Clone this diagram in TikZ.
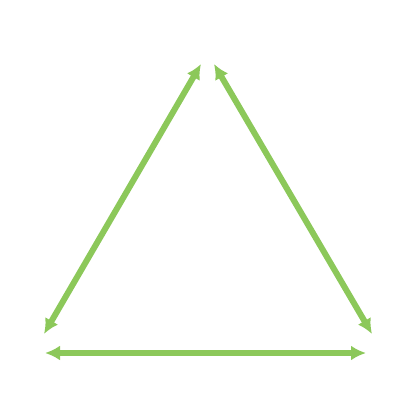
\documentclass[tikz,border=0pt]{standalone}
\usetikzlibrary{arrows.meta}
\definecolor{leafgreen}{HTML}{8CC85A}
\begin{document}
\begin{tikzpicture}[x=0.01cm,y=-0.01cm,
  side/.style={{Latex[length=0.15cm,width=0.15cm]}-{Latex[length=0.15cm,width=0.15cm]},leafgreen,line width=0.06cm}]

\useasboundingbox (0,0) rectangle (416,416);

% Sommets
\coordinate (topL) at (201,64);
\coordinate (topR) at (214,64);
\coordinate (leftU) at (44,334);
\coordinate (rightU) at (372,334);
\coordinate (leftD) at (45,353);
\coordinate (rightD) at (366,353);

% Cotes
\draw[side]
(leftU)
--
(topL);

\draw[side]
(topR)
--
(rightU);

\draw[side]
(leftD)
--
(rightD);

\end{tikzpicture}
\end{document}
